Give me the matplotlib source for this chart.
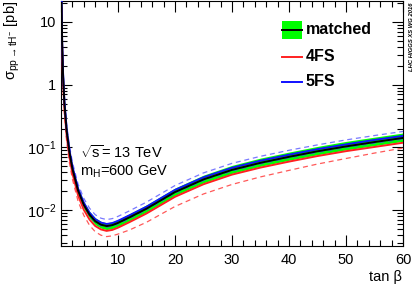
import matplotlib
matplotlib.use("Agg")
import matplotlib.pyplot as plt
from matplotlib.ticker import FixedLocator, MultipleLocator, LogLocator, FuncFormatter, NullFormatter
from matplotlib.patches import Rectangle

plt.rcParams['font.family'] = ['Liberation Sans', 'DejaVu Sans']
plt.rcParams['mathtext.fontset'] = 'custom'
plt.rcParams['mathtext.rm'] = 'Liberation Sans'
plt.rcParams['mathtext.it'] = 'Liberation Sans'

# tan(beta) grid and cross sections [pb]
tanb = [0.1, 0.2, 0.35, 0.6, 1, 1.5, 2, 3, 4, 5, 6, 7, 8, 9, 10,
        12, 15, 20, 25, 30, 35, 40, 45, 50, 55, 60]

matched = [20, 4.6, 1.5, 0.50, 0.18, 0.082, 0.046, 0.0205, 0.0122, 0.0085,
           0.0067, 0.0059, 0.0056, 0.0058, 0.0063, 0.0077, 0.0106, 0.0195,
           0.031, 0.044, 0.057, 0.071, 0.087, 0.104, 0.122, 0.142]
matched_hi = [22.6, 5.2, 1.70, 0.565, 0.203, 0.0927, 0.052, 0.0232, 0.0138, 0.0096,
              0.0076, 0.00667, 0.00633, 0.00655, 0.00712, 0.00878, 0.0122, 0.0226,
              0.0363, 0.0519, 0.0678, 0.0845, 0.104, 0.125, 0.146, 0.170]
matched_lo = [17.6, 4.05, 1.32, 0.44, 0.158, 0.0722, 0.0405, 0.018, 0.0107, 0.0075,
              0.0059, 0.0052, 0.00493, 0.0051, 0.00554, 0.00678, 0.00933, 0.0172,
              0.0273, 0.0387, 0.0502, 0.0625, 0.0766, 0.0915, 0.107, 0.125]

fs4 = [16.8, 3.86, 1.26, 0.42, 0.151, 0.0689, 0.0386, 0.0172, 0.0102, 0.00714,
       0.00563, 0.00496, 0.0047, 0.00487, 0.00529, 0.00647, 0.0089, 0.0164,
       0.026, 0.037, 0.0479, 0.0596, 0.0731, 0.0874, 0.102, 0.119]
fs4_lo = [13.6, 3.13, 1.02, 0.34, 0.122, 0.0558, 0.0313, 0.0139, 0.0083, 0.00578,
          0.00456, 0.00401, 0.00381, 0.00392, 0.00418, 0.00485, 0.00645, 0.0115,
          0.0182, 0.0258, 0.034, 0.0432, 0.0545, 0.0668, 0.0815, 0.098]

fs5 = [21.6, 4.97, 1.62, 0.54, 0.194, 0.0886, 0.0497, 0.0221, 0.0132, 0.00918,
       0.00724, 0.00637, 0.00605, 0.00626, 0.0068, 0.00832, 0.0114, 0.0211,
       0.0335, 0.0475, 0.0616, 0.0767, 0.094, 0.112, 0.132, 0.153]
fs5_hi = [25.4, 5.84, 1.91, 0.635, 0.229, 0.104, 0.0584, 0.026, 0.0155, 0.0108,
          0.00851, 0.00749, 0.00711, 0.00737, 0.008, 0.00978, 0.0135, 0.0248,
          0.0394, 0.0559, 0.0724, 0.0902, 0.11, 0.132, 0.155, 0.18]
fs5_lo = [19.2, 4.42, 1.44, 0.48, 0.173, 0.0787, 0.0442, 0.0197, 0.0117, 0.00816,
          0.00643, 0.00566, 0.00538, 0.00557, 0.00605, 0.00739, 0.0102, 0.0187,
          0.0298, 0.0422, 0.0547, 0.0682, 0.0835, 0.0998, 0.117, 0.136]

fig = plt.figure(figsize=(4.16, 2.86), dpi=100)
ax = fig.add_axes([61/416, 1-246/286, 342/416, 245/286])

ax.fill_between(tanb, matched_lo, matched_hi, color='#00ff00', lw=0, zorder=2)
ax.plot(tanb, fs4_lo, color='#ff3030', lw=0.9, ls=(0, (4, 3)), alpha=0.8, zorder=3)
ax.plot(tanb, fs5_hi, color='#4040ff', lw=0.9, ls=(0, (4, 3)), alpha=0.7, zorder=3)
ax.plot(tanb, fs5_lo, color='#4040ff', lw=0.9, ls=(0, (4, 3)), alpha=0.7, zorder=3)
ax.plot(tanb, fs4, color='#ff2020', lw=1.4, zorder=4)
ax.plot(tanb, fs5, color='#1010ff', lw=1.4, zorder=4)
ax.plot(tanb, matched, color='black', lw=1.4, zorder=5)

ax.set_yscale('log')
ax.set_xlim(0, 60)
ax.set_ylim(2.7e-3, 21.5)

def ylab(v, pos):
    if v == 10:
        return '10'
    if v == 1:
        return '1'
    if v == 0.1:
        return r'$10^{-1}$'
    if v == 0.01:
        return r'$10^{-2}$'
    return ''

ax.yaxis.set_major_locator(FixedLocator([0.01, 0.1, 1, 10]))
ax.yaxis.set_major_formatter(FuncFormatter(ylab))
ax.yaxis.set_minor_locator(LogLocator(base=10, subs=range(2, 10), numticks=20))
ax.yaxis.set_minor_formatter(NullFormatter())
ax.set_xticks([0, 10, 20, 30, 40, 50, 60])
ax.set_xticklabels(['', '10', '20', '30', '40', '50', '60'])
ax.xaxis.set_minor_locator(MultipleLocator(2))

ax.tick_params(which='both', direction='in', top=True, right=True, labelsize=10.5)
ax.tick_params(which='major', length=8, width=0.8)
ax.tick_params(which='minor', length=4, width=0.8)
ax.tick_params(axis='x', pad=5)

fig.text(402/416, 1-277/286, 'tan β', ha='right', va='center', fontsize=10.5)
fig.text(12/416, 0.998, r'$\sigma_{pp\rightarrow tH^{-}}$ [pb]', rotation=90,
         ha='center', va='top', fontsize=10.5)

ax.text(0.056, 0.382, r'$\sqrt{s}$= 13 TeV', transform=ax.transAxes, fontsize=10.5, va='center')
ax.text(0.056, 0.301, r'm$_{H}$=600 GeV', transform=ax.transAxes, fontsize=10.5, va='center')

# legend
ax.add_patch(Rectangle((0.646, 0.846), 0.059, 0.073, transform=ax.transAxes,
                       color='#00ff00', lw=0, zorder=6))
ax.plot([0.646, 0.705], [0.882, 0.882], color='black', lw=1.4, transform=ax.transAxes, zorder=7)
ax.plot([0.646, 0.705], [0.772, 0.772], color='#ff2020', lw=1.4, transform=ax.transAxes, zorder=7)
ax.plot([0.646, 0.705], [0.671, 0.671], color='#1010ff', lw=1.4, transform=ax.transAxes, zorder=7)
for yy, s in [(0.882, 'matched'), (0.772, '4FS'), (0.671, '5FS')]:
    ax.text(0.716, yy, s, transform=ax.transAxes, fontsize=11.5, fontweight='bold', va='center')

fig.text(0.988, 0.99, 'LHC HIGGS XS WG 2016', rotation=90, ha='center', va='top',
         fontsize=4.2, fontweight='bold', style='italic')

fig.savefig('out.png', dpi=100)
